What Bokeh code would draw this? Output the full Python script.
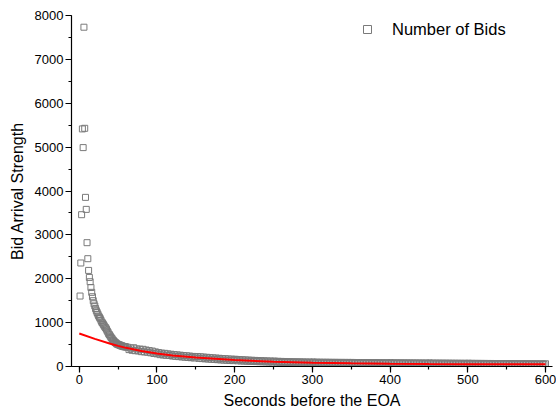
from bokeh.plotting import figure
from bokeh.models import Range1d, SingleIntervalTicker, Legend, LegendItem
from bokeh.embed import file_html
from bokeh.resources import INLINE

# ---- data ----
early_seconds = list(range(1, 61))
early_bids = [1606, 2359, 3460, 5415, 4989, 7733, 5429, 3855, 3581, 2822,
              2457, 2190, 2030, 1932, 1800, 1690, 1590, 1500, 1430, 1380,
              1320, 1270, 1230, 1190, 1150, 1120, 1090, 1050, 1010, 990,
              960, 930, 900, 880, 850, 810, 780, 740, 720, 690,
              660, 640, 610, 590, 570, 550, 540, 520, 510, 500,
              495, 490, 480, 470, 470, 460, 455, 450, 450, 445]

tail_seconds = list(range(62, 601, 2))
tail_bids = [440, 385, 418, 370, 428, 360, 402, 355, 395, 338, 392, 332, 376, 325, 362, 312, 352, 296, 333, 288,
             318, 270, 305, 262, 300, 255, 288, 250, 280, 238, 272, 232, 265, 225, 258, 218, 250, 212, 244, 205, 238, 200, 230, 194, 225,
             228, 185, 222, 180, 215, 175, 210, 170, 204, 165, 198, 160, 192, 155, 187, 150, 182, 146, 178, 142, 172, 138, 168, 134, 164,
             162, 130, 158, 127, 154, 124, 150, 121, 146, 118, 142, 115, 139, 112, 136, 110, 133, 107, 130, 105, 127, 102, 125, 100, 122,
             120, 96, 118, 94, 116, 92, 114, 91, 112, 89, 110, 88, 108, 86, 107, 85, 106, 84, 104, 83, 103, 82, 102, 81, 101,
             100, 80, 99, 79, 98, 79, 97, 78, 97, 77, 96, 77, 95, 76, 95, 76, 94, 75, 94, 75, 93, 74, 93, 74, 92,
             92, 73, 91, 73, 91, 72, 90, 72, 90, 71, 89, 71, 89, 70, 88, 70, 88, 69, 87, 69, 87, 68, 86, 68, 86,
             85, 67, 85, 67, 84, 66, 84, 66, 83, 65, 83, 65, 82, 64, 82, 64, 81, 63, 81, 63, 80, 62, 80, 62, 79,
             79, 61, 78, 61, 78, 60, 77, 60, 77, 59, 76, 59, 76, 58, 75, 58, 75, 57, 74, 57, 74, 56, 73, 56, 73,
             72, 55, 72, 55, 71, 55, 71, 54, 70, 54, 70, 54, 69, 53, 69, 53, 68, 53, 68, 52, 67, 52, 67, 52, 66,
             66, 51, 66, 51, 65, 51, 65, 50, 64, 50, 64, 50, 63, 49, 63, 49, 62, 49, 62, 48, 61, 48, 61, 48, 62]

fit_seconds = [0, 20, 40, 50, 60, 80, 100, 120, 150, 200, 250, 300, 350,
               400, 450, 500, 550, 600]
fit_values = [753, 630, 520, 470, 425, 355, 297, 250, 205, 146, 108, 85, 72,
              62, 56, 53, 51, 50]

seconds = early_seconds + tail_seconds
bids = early_bids + tail_bids

FONT = "Liberation Sans"

p = figure(width=556, height=415, output_backend="svg", toolbar_location=None,
           x_range=Range1d(-10, 609), y_range=Range1d(0, 8000),
           min_border_left=71, min_border_right=4, min_border_top=15,
           min_border_bottom=49)
p.xgrid.visible = False
p.ygrid.visible = False
p.outline_line_color = None
p.background_fill_color = "white"
p.border_fill_color = "white"

p.xaxis.ticker = SingleIntervalTicker(interval=100, num_minor_ticks=2)
p.yaxis.ticker = SingleIntervalTicker(interval=1000, num_minor_ticks=2)
p.xaxis.axis_label = "Seconds before the EOA"
p.yaxis.axis_label = "Bid Arrival Strength"

for ax in (p.xaxis[0], p.yaxis[0]):
    ax.axis_line_color = "black"
    ax.axis_line_width = 1.2
    ax.major_tick_line_color = "black"
    ax.minor_tick_line_color = "black"
    ax.major_tick_line_width = 1.2
    ax.minor_tick_line_width = 1.2
    ax.major_tick_in = 0
    ax.major_tick_out = 6
    ax.minor_tick_in = 0
    ax.minor_tick_out = 3
    ax.major_label_text_font = FONT
    ax.major_label_text_font_size = "13px"
    ax.major_label_text_color = "black"
    ax.axis_label_text_font = FONT
    ax.axis_label_text_font_size = "16px"
    ax.axis_label_text_font_style = "normal"
    ax.axis_label_text_color = "black"

p.xaxis.major_label_standoff = 2
p.xaxis.axis_label_standoff = 5
p.yaxis.major_label_standoff = 2
p.yaxis.axis_label_standoff = 6

r = p.scatter(seconds, bids, marker="square", size=6, line_color="#7a7a7a",
              line_width=1, fill_alpha=0)
p.line(fit_seconds, fit_values, line_color="red", line_width=2)

legend = Legend(items=[LegendItem(label="Number of Bids", renderers=[r])],
                location=(286, 327), padding=0, margin=0, spacing=0,
                glyph_width=20, glyph_height=20, label_height=20,
                label_standoff=15, border_line_color=None,
                background_fill_alpha=0, label_text_font=FONT,
                label_text_font_size="16.5px", label_text_color="black")
p.add_layout(legend)

open("out.html", "w").write(file_html(p, INLINE))
